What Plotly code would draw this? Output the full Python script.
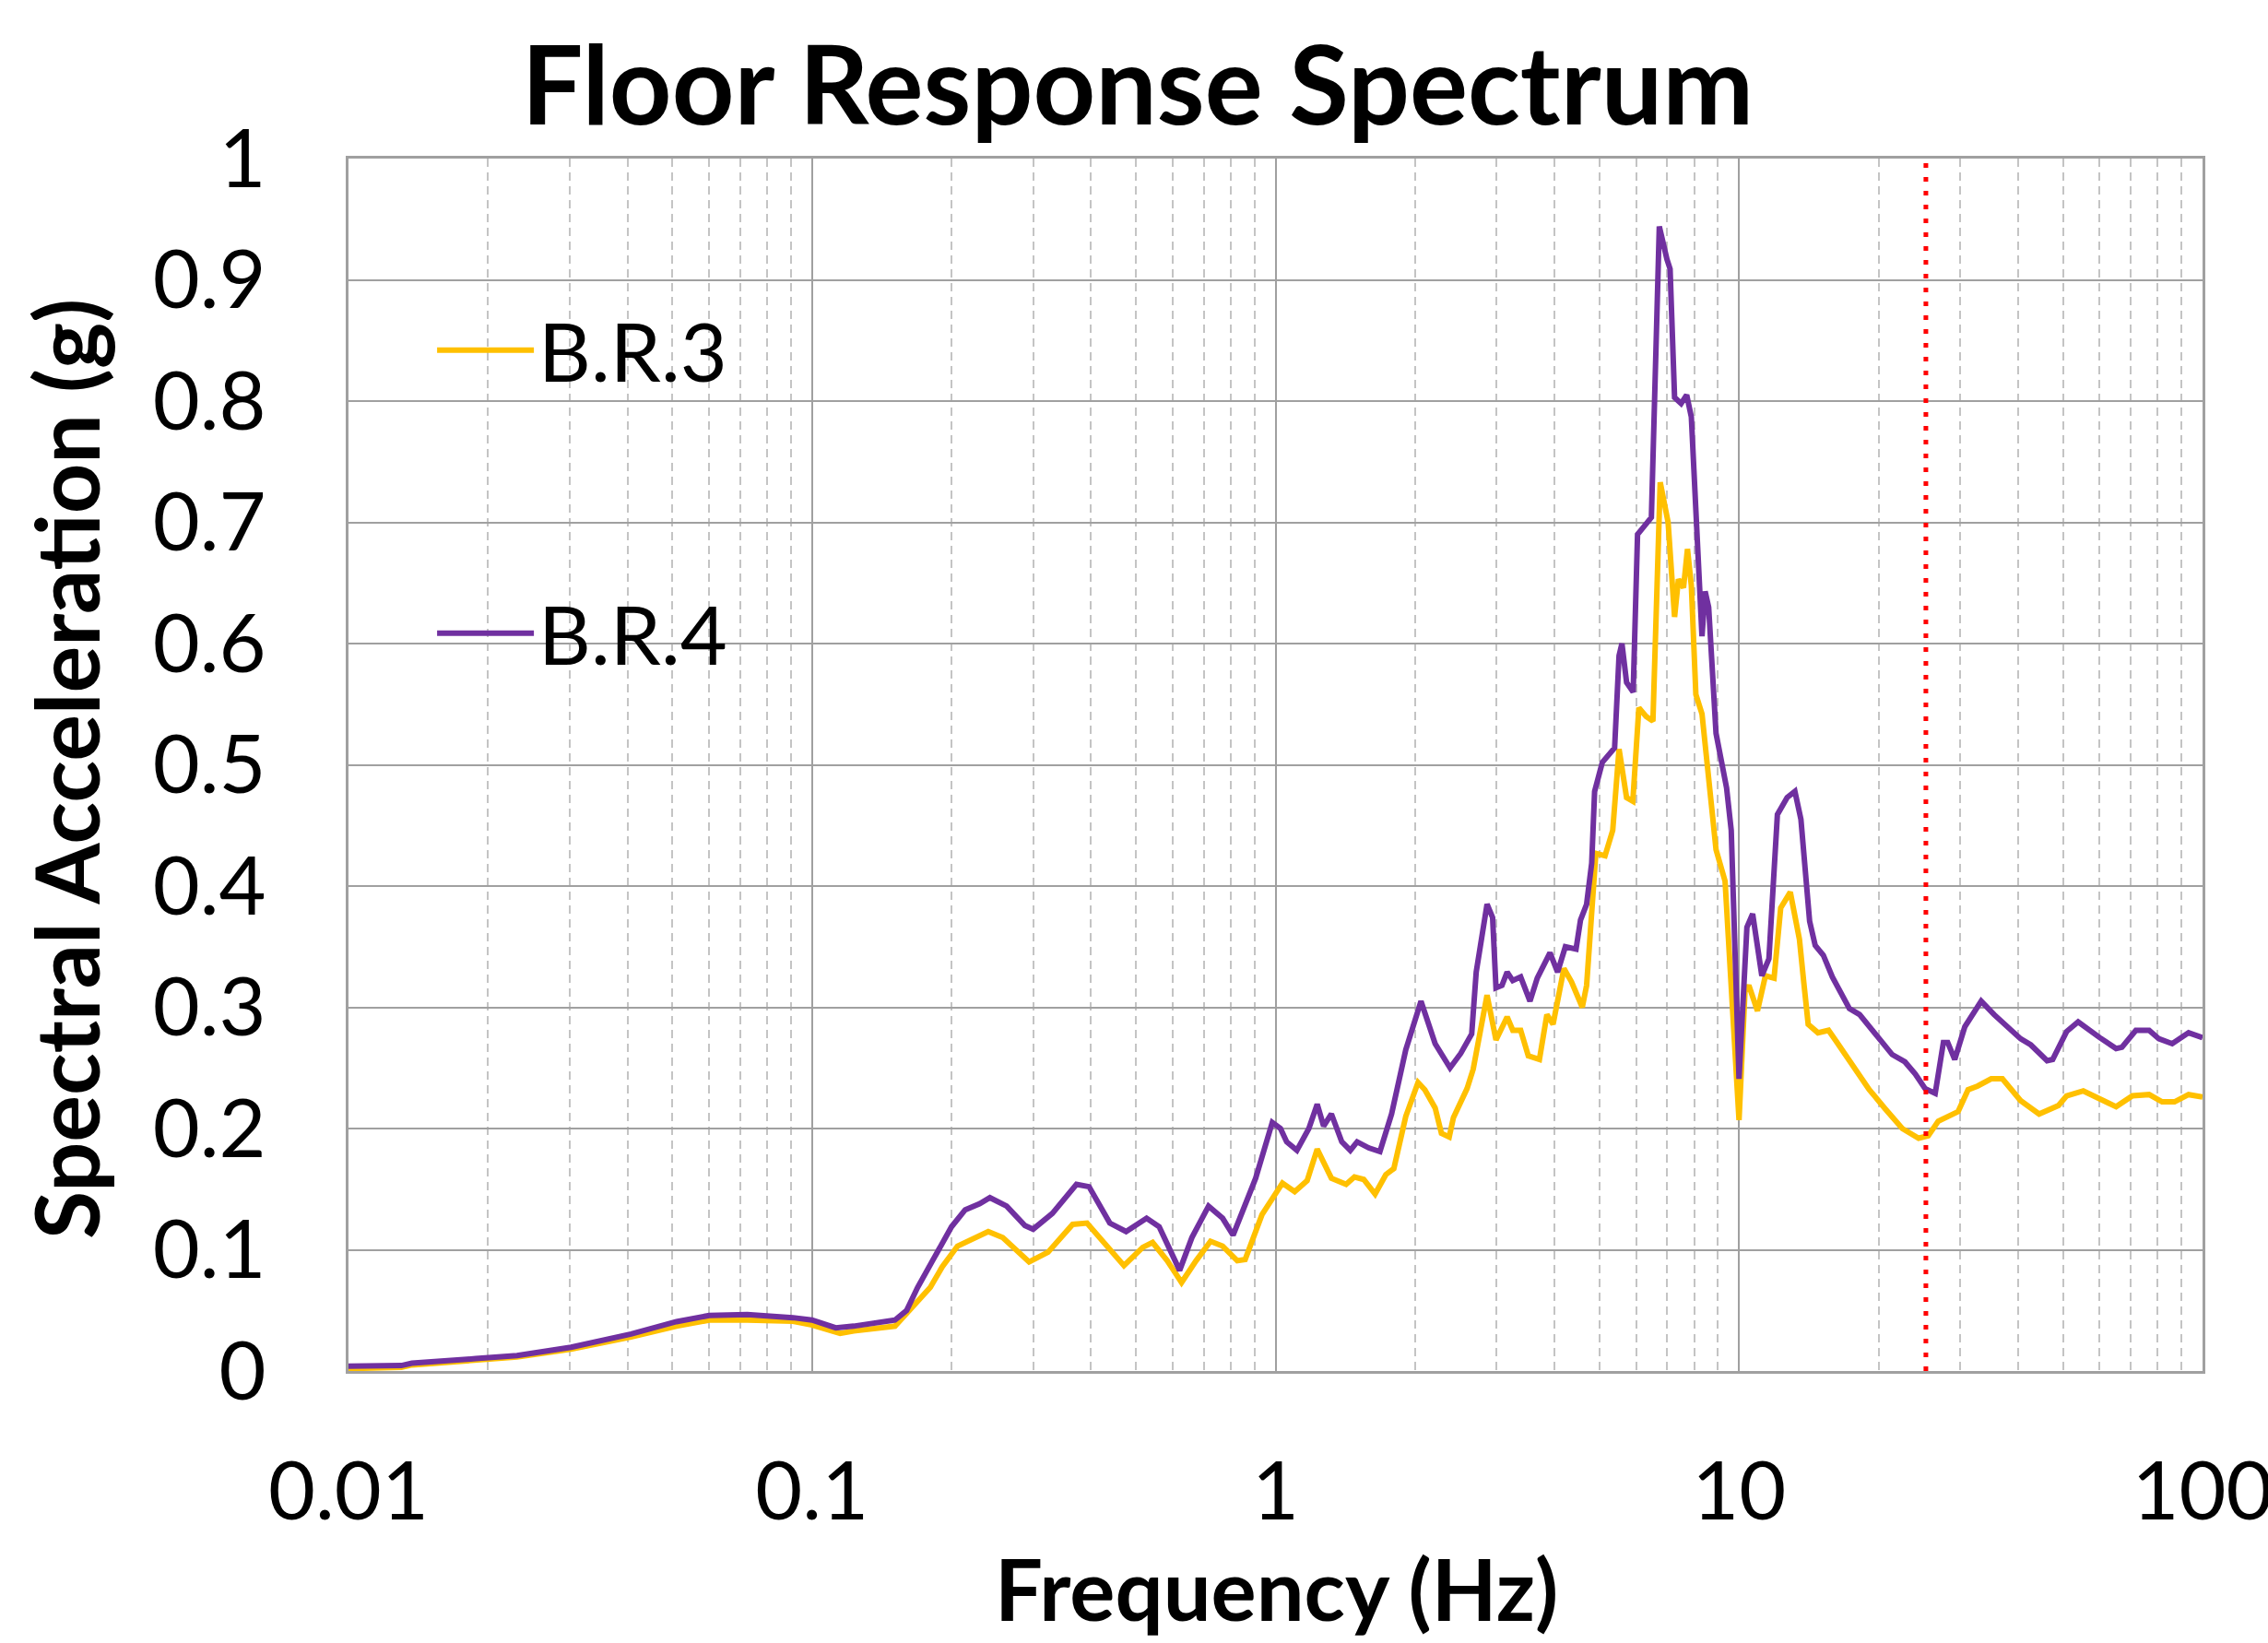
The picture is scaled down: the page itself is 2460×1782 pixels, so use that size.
import plotly.graph_objects as go

# ---------------- data ----------------
freq_br3 = [0.01, 0.013, 0.0137, 0.0157, 0.0188, 0.0231, 0.0302, 0.0407, 0.051, 0.06,
            0.0725, 0.091, 0.1, 0.115, 0.123, 0.151, 0.18, 0.191, 0.206, 0.223,
            0.24, 0.258, 0.294, 0.323, 0.365, 0.392, 0.421, 0.471, 0.517, 0.543,
            0.584, 0.627, 0.674, 0.724, 0.769, 0.827, 0.86, 0.935, 1.035, 1.1,
            1.17, 1.23, 1.32, 1.42, 1.48, 1.55, 1.64, 1.73, 1.8, 1.91,
            2.03, 2.1, 2.21, 2.28, 2.37, 2.42, 2.59, 2.67, 2.86, 2.99,
            3.16, 3.25, 3.38, 3.51, 3.71, 3.85, 3.97, 4.19, 4.35, 4.59,
            4.69, 4.91, 5.14, 5.34, 5.51, 5.72, 5.9, 6.08, 6.3, 6.52,
            6.76, 7.03, 7.26, 7.4, 7.59, 7.74, 7.89, 8.07, 8.32, 8.92,
            9.33, 10.0, 10.3, 10.5, 10.96, 11.4, 11.9, 12.3, 12.9, 13.5,
            13.8, 14.1, 14.8, 15.6, 16.2, 17.7, 19.1, 20.7, 22.5, 24.4,
            25.6, 26.9, 29.7, 31.2, 32.7, 35.0, 37.0, 40.5, 44.4, 48.9,
            50.9, 55.3, 59.0, 65.1, 70.6, 76.7, 81.8, 87.0, 93.3, 100.0]
acc_br3 = [0.002, 0.003, 0.005, 0.0065, 0.009, 0.0115, 0.018, 0.028, 0.037, 0.042,
           0.042, 0.041, 0.038, 0.031, 0.033, 0.037, 0.069, 0.086, 0.103, 0.109,
           0.115, 0.110, 0.090, 0.098, 0.121, 0.122, 0.109, 0.087, 0.102, 0.106,
           0.091, 0.073, 0.091, 0.107, 0.103, 0.091, 0.092, 0.129, 0.155, 0.148,
           0.157, 0.183, 0.159, 0.154, 0.160, 0.158, 0.146, 0.162, 0.167, 0.210,
           0.238, 0.232, 0.217, 0.196, 0.193, 0.209, 0.233, 0.249, 0.310, 0.273,
           0.292, 0.281, 0.281, 0.260, 0.257, 0.294, 0.286, 0.332, 0.321, 0.300,
           0.318, 0.427, 0.425, 0.446, 0.513, 0.473, 0.470, 0.547, 0.540, 0.536,
           0.733, 0.700, 0.622, 0.653, 0.646, 0.678, 0.648, 0.558, 0.542, 0.430,
           0.404, 0.207, 0.313, 0.318, 0.297, 0.326, 0.324, 0.382, 0.395, 0.356,
           0.320, 0.286, 0.279, 0.281, 0.272, 0.250, 0.232, 0.216, 0.200, 0.192,
           0.194, 0.206, 0.214, 0.232, 0.235, 0.241, 0.241, 0.223, 0.212, 0.219,
           0.227, 0.231, 0.226, 0.218, 0.227, 0.228, 0.222, 0.222, 0.228, 0.226]

freq_br4 = [0.01, 0.013, 0.0137, 0.0157, 0.0188, 0.0231, 0.0302, 0.0407, 0.051, 0.06,
            0.0725, 0.091, 0.1, 0.1125, 0.123, 0.151, 0.16, 0.169, 0.186, 0.2,
            0.214, 0.23, 0.242, 0.263, 0.288, 0.3, 0.33, 0.372, 0.396, 0.439,
            0.476, 0.527, 0.561, 0.621, 0.66, 0.717, 0.769, 0.81, 0.906, 0.984,
            1.025, 1.057, 1.112, 1.18, 1.23, 1.27, 1.32, 1.39, 1.45, 1.5,
            1.59, 1.68, 1.78, 1.91, 2.06, 2.21, 2.38, 2.51, 2.65, 2.71,
            2.86, 2.94, 2.99, 3.08, 3.16, 3.25, 3.38, 3.54, 3.67, 3.91,
            4.06, 4.22, 4.45, 4.55, 4.69, 4.81, 4.88, 5.07, 5.39, 5.51,
            5.59, 5.72, 5.91, 6.04, 6.47, 6.73, 6.99, 7.1, 7.26, 7.5,
            7.71, 7.89, 8.32, 8.45, 8.6, 8.92, 9.4, 9.62, 10.0, 10.4,
            10.7, 11.2, 11.6, 12.1, 12.7, 13.2, 13.6, 14.2, 14.6, 15.2,
            15.9, 17.3, 18.2, 19.7, 21.4, 22.8, 24.0, 25.2, 26.5, 27.6,
            28.2, 29.2, 30.7, 33.3, 35.5, 40.5, 42.6, 46.2, 47.5, 50.9,
            53.9, 60.0, 65.1, 67.0, 71.8, 76.7, 80.5, 86.0, 93.3, 100.0]
acc_br4 = [0.004, 0.0045, 0.0064, 0.0076, 0.0102, 0.0127, 0.0196, 0.0305, 0.0407, 0.0458,
           0.0466, 0.044, 0.042, 0.0356, 0.037, 0.042, 0.050, 0.069, 0.098, 0.119,
           0.133, 0.138, 0.143, 0.136, 0.120, 0.117, 0.130, 0.154, 0.152, 0.122,
           0.115, 0.126, 0.119, 0.083, 0.110, 0.136, 0.126, 0.112, 0.159, 0.205,
           0.200, 0.189, 0.182, 0.200, 0.220, 0.202, 0.212, 0.189, 0.182, 0.189,
           0.184, 0.181, 0.212, 0.265, 0.305, 0.270, 0.250, 0.262, 0.278, 0.329,
           0.385, 0.374, 0.316, 0.318, 0.329, 0.322, 0.325, 0.305, 0.324, 0.345,
           0.329, 0.350, 0.348, 0.372, 0.385, 0.419, 0.478, 0.502, 0.514, 0.590,
           0.600, 0.568, 0.560, 0.690, 0.704, 0.944, 0.917, 0.909, 0.803, 0.798,
           0.805, 0.787, 0.606, 0.643, 0.630, 0.526, 0.481, 0.446, 0.241, 0.366,
           0.377, 0.326, 0.340, 0.459, 0.473, 0.478, 0.455, 0.371, 0.351, 0.343,
           0.325, 0.299, 0.294, 0.277, 0.261, 0.255, 0.245, 0.233, 0.229, 0.271,
           0.271, 0.257, 0.284, 0.305, 0.294, 0.274, 0.269, 0.256, 0.257, 0.280,
           0.288, 0.275, 0.266, 0.267, 0.281, 0.281, 0.274, 0.270, 0.279, 0.275]

cutoff_freq = 25.3
cutoff_line_y = [0, 1]

x_tickvals = [0.01, 0.1, 1, 10, 100]
x_ticktext = ["0.01", "0.1", "1", "10", "100"]
y_tickvals = [0, 0.1, 0.2, 0.3, 0.4, 0.5, 0.6, 0.7, 0.8, 0.9, 1]
y_ticktext = ["0", "0.1", "0.2", "0.3", "0.4", "0.5", "0.6", "0.7", "0.8", "0.9", "1"]

# ---------------- figure ----------------
FONT = "Lato"
YELLOW = "#FFC000"
PURPLE = "#7030A0"
GRID = "#A0A0A0"
MINOR = "#C4C4C4"

W, H = 2460, 1782
M_L, M_R, M_T, M_B = 378, 71, 172, 295
PLOT_H = H - M_T - M_B


def ypaper(px):
    """pixel row (from top) -> paper y relative to plot domain"""
    return (H - M_B - px) / PLOT_H


def xpaper(px):
    return (px - M_L) / (W - M_L - M_R)


fig = go.Figure()
fig.add_trace(go.Scatter(x=freq_br3, y=acc_br3, mode="lines", name="B.R.3",
                         line=dict(color=YELLOW, width=6), legend="legend"))
fig.add_trace(go.Scatter(x=freq_br4, y=acc_br4, mode="lines", name="B.R.4",
                         line=dict(color=PURPLE, width=6), legend="legend2"))
fig.add_trace(go.Scatter(x=[cutoff_freq, cutoff_freq], y=cutoff_line_y, mode="lines",
                         showlegend=False, hoverinfo="skip",
                         line=dict(color="#FF0000", width=5, dash="5px,10px")))

legend_common = dict(font=dict(family=FONT, size=88, color="black"),
                     bgcolor="rgba(0,0,0,0)", borderwidth=0,
                     xanchor="left", yanchor="middle", itemwidth=105)

fig.update_layout(
    width=W, height=H, autosize=False,
    paper_bgcolor="white", plot_bgcolor="white",
    margin=dict(l=M_L, r=M_R, t=M_T, b=M_B, autoexpand=False),
    font=dict(family=FONT, color="black"),
    title=dict(text="<b>Floor Response Spectrum</b>", x=0.5016, xanchor="center",
               xref="container", y=1 - 94 / H, yanchor="middle",
               font=dict(family=FONT, size=118, color="black")),
    legend=dict(x=0.0453, y=ypaper(380), **legend_common),
    legend2=dict(x=0.0453, y=ypaper(687), **legend_common),
    xaxis=dict(type="log", range=[-2, 2], tickvals=x_tickvals, ticktext=x_ticktext,
               automargin=False,
               tickfont=dict(family=FONT, size=88, color="black"),
               ticks="outside", ticklen=53, tickcolor="rgba(0,0,0,0)",
               ticklabeloverflow="allow",
               showgrid=True, gridcolor=GRID, gridwidth=2,
               showline=True, linecolor=GRID, linewidth=2.5, mirror=True,
               minor=dict(dtick="D1", showgrid=True, gridcolor=MINOR, gridwidth=2,
                          griddash="9px,6px", ticks=""),
               zeroline=False),
    yaxis=dict(range=[0, 1], tickvals=y_tickvals, ticktext=y_ticktext,
               automargin=False,
               tickfont=dict(family=FONT, size=88, color="black"),
               ticks="outside", ticklen=69, tickcolor="rgba(0,0,0,0)",
               showgrid=True, gridcolor=GRID, gridwidth=2,
               showline=True, linecolor=GRID, linewidth=2.5, mirror=True,
               zeroline=False),
    annotations=[
        dict(text="<b>Frequency (Hz)</b>", xref="paper", yref="paper",
             x=xpaper(1384), y=ypaper(1722), xanchor="center", yanchor="middle",
             showarrow=False, font=dict(family=FONT, size=92, color="black")),
        dict(text="<b>Spectral Acceleration (g)</b>", xref="paper", yref="paper",
             x=xpaper(71), y=ypaper(834), xanchor="center", yanchor="middle",
             textangle=-90, showarrow=False,
             font=dict(family=FONT, size=95, color="black")),
    ],
)

fig.write_html(
    "out.html",
    config={"responsive": False, "displayModeBar": False},
    post_script="document.body.style.margin='0';document.body.style.overflow='hidden';",
)
